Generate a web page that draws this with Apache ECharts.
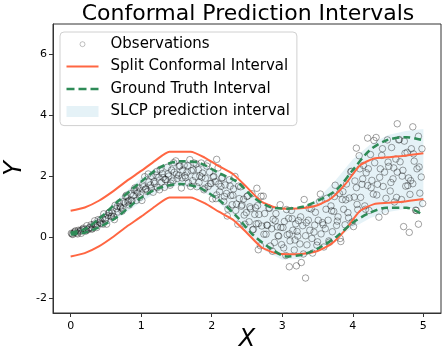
<!DOCTYPE html>
<html>
<head>
<meta charset="utf-8">
<script src="https://cdn.jsdelivr.net/npm/echarts@6/dist/echarts.min.js"></script>
<style>
  html, body { margin: 0; padding: 0; background: #fff; }
  #chart { width: 442px; height: 354px; }
</style>
</head>
<body>
<div id="chart"></div>
<script>
// tick labels
const xTicks = [0, 1, 2, 3, 4, 5];
const yTicks = [-2, 0, 2, 4, 6];

// observations [x, y]
const observations = [
  [0.01,0.12],[0.03,0.08],[0.05,0.14],[0.07,0.20],[0.09,0.13],[0.11,0.22],[0.13,0.18],[0.15,0.12],[0.17,0.25],[0.19,0.25],[0.21,0.19],[0.23,0.37],[0.25,0.24],
  [0.27,0.31],[0.29,0.40],[0.31,0.27],[0.33,0.42],[0.35,0.39],[0.37,0.31],[0.39,0.57],[0.41,0.48],[0.43,0.44],[0.45,0.61],[0.47,0.76],[0.49,0.56],
  [0.51,0.42],[0.53,0.70],[0.55,0.81],[0.57,0.67],[0.59,0.79],[0.61,0.67],[0.63,1.04],[0.65,0.93],[0.67,0.82],[0.69,1.12],[0.71,0.96],[0.73,0.85],[0.75,1.16],
  [0.77,1.12],[0.79,1.37],[0.81,1.15],[0.83,1.05],[0.85,1.42],[0.87,1.20],[0.89,1.36],[0.91,1.61],[0.93,1.20],[0.95,1.45],[0.97,1.61],[0.99,1.39],
  [1.01,1.20],[1.03,1.65],[1.05,1.98],[1.07,1.58],[1.09,1.49],[1.11,1.81],[1.13,1.71],[1.15,1.99],[1.17,1.47],[1.19,1.76],[1.21,2.03],[1.23,1.63],
  [1.25,1.97],[1.27,2.22],[1.29,1.80],[1.31,1.95],[1.33,1.63],[1.35,1.88],[1.37,2.29],[1.39,2.00],[1.41,1.70],[1.43,2.20],[1.45,1.84],[1.47,2.13],[1.49,2.50],
  [1.51,1.92],[1.53,2.02],[1.55,2.34],[1.57,1.61],[1.59,2.20],[1.61,2.36],[1.63,1.95],[1.65,2.13],[1.67,1.78],[1.69,2.54],[1.71,2.18],[1.73,1.85],[1.75,2.43],
  [1.77,1.98],[1.79,1.65],[1.81,2.21],[1.83,2.01],[1.85,2.43],[1.87,2.10],[1.89,1.55],[1.91,1.93],[1.93,2.33],[1.95,1.66],[1.97,2.13],[1.99,1.75],
  [2.01,1.25],[2.03,1.99],[2.05,1.82],[2.07,1.38],[2.09,2.27],[2.11,1.49],[2.13,1.66],[2.15,1.95],[2.17,1.17],[2.19,1.71],[2.21,1.43],[2.23,0.92],[2.25,1.88],
  [2.27,1.36],[2.29,1.06],[2.31,1.58],[2.33,1.99],[2.35,1.08],[2.37,0.42],[2.39,1.26],[2.41,1.65],[2.43,1.05],[2.45,1.24],[2.47,0.42],[2.49,0.80],
  [2.51,1.35],[2.53,0.50],[2.55,0.93],[2.57,1.42],[2.59,0.25],[2.61,0.74],[2.63,0.43],[2.65,1.03],[2.67,0.74],[2.69,-0.29],[2.71,0.36],[2.73,1.34],[2.75,0.77],
  [2.77,0.09],[2.79,0.38],[2.81,0.95],[2.83,-0.30],[2.85,0.27],[2.87,0.58],[2.89,-0.18],[2.91,0.77],[2.93,0.33],[2.95,0.03],[2.97,1.06],[2.99,-0.25],
  [3.01,0.31],[3.03,0.51],[3.05,-0.61],[3.07,0.07],[3.09,0.61],[3.11,-0.13],[3.13,0.87],[3.15,0.22],[3.17,-0.43],[3.19,0.43],[3.21,0.18],[3.23,0.54],[3.25,-0.23],
  [3.27,-0.84],[3.29,0.37],[3.31,1.23],[3.33,0.04],[3.35,-0.26],[3.37,0.55],[3.39,0.22],[3.41,0.92],[3.43,-0.53],[3.45,0.16],[3.47,0.81],[3.49,-0.27],
  [3.51,0.55],[3.53,1.17],[3.55,0.10],[3.57,0.47],[3.59,-0.33],[3.61,0.27],[3.63,1.27],[3.65,0.55],[3.67,-0.17],[3.69,1.02],[3.71,0.17],[3.73,0.84],[3.75,1.70],
  [3.77,0.38],[3.79,0.66],[3.81,1.43],[3.83,-0.15],[3.85,1.23],[3.87,0.91],[3.89,0.40],[3.91,1.74],[3.93,0.80],[3.95,1.28],[3.97,2.14],[3.99,0.49],
  [4.01,0.34],[4.03,1.84],[4.05,1.62],[4.07,0.90],[4.09,2.67],[4.11,1.30],[4.13,1.73],[4.15,2.35],[4.17,1.02],[4.19,2.11],[4.21,1.69],[4.23,0.87],[4.25,2.71],
  [4.27,1.86],[4.29,1.41],[4.31,2.44],[4.33,3.27],[4.35,1.73],[4.37,0.65],[4.39,2.24],[4.41,2.68],[4.43,1.66],[4.45,2.13],[4.47,1.27],[4.49,3.19],
  [4.51,2.32],[4.53,1.51],[4.55,2.94],[4.57,1.91],[4.59,1.15],[4.61,2.56],[4.63,2.13],[4.65,3.19],[4.67,2.47],[4.69,1.23],[4.71,2.19],[4.73,3.15],[4.75,1.67],
  [4.77,2.78],[4.79,1.94],[4.81,1.40],[4.83,2.90],[4.85,1.75],[4.87,2.49],[4.89,0.88],[4.91,2.24],[4.93,3.31],[4.95,1.44],[4.97,1.97],[4.99,1.10],
  [0.02,0.10],[0.06,0.18],[0.10,0.10],[0.14,0.22],[0.18,0.29],[0.22,0.21],[0.26,0.29],[0.30,0.26],[0.34,0.53],[0.38,0.42],[0.42,0.55],[0.46,0.42],
  [0.50,0.63],[0.54,0.79],[0.58,0.69],[0.62,0.57],[0.66,1.00],[0.70,1.00],[0.74,0.92],[0.78,1.33],[0.82,1.19],[0.86,1.19],[0.90,1.54],[0.94,1.51],
  [0.98,1.30],[1.02,1.71],[1.06,1.57],[1.10,2.07],[1.14,1.60],[1.18,1.82],[1.22,2.15],[1.26,1.55],[1.30,2.08],[1.34,1.89],[1.38,2.07],[1.42,1.77],
  [1.46,2.44],[1.50,2.06],[1.54,2.32],[1.58,1.94],[1.62,2.01],[1.66,2.34],[1.70,1.66],[1.74,2.20],[1.78,2.40],[1.82,1.79],[1.86,1.97],[1.90,1.60],
  [1.94,2.41],[1.98,1.76],[2.02,1.97],[2.06,1.26],[2.10,1.74],[2.14,1.93],[2.18,1.33],[2.22,0.69],[2.26,1.67],[2.30,1.37],[2.34,0.87],[2.38,1.67],
  [2.42,1.01],[2.46,0.72],[2.50,1.33],[2.54,0.99],[2.58,0.23],[2.62,0.96],[2.66,0.44],[2.70,1.34],[2.74,0.09],[2.78,0.39],[2.82,0.94],[2.86,-0.47],
  [2.90,0.53],[2.94,0.04],[2.98,0.31],[3.02,-0.36],[3.06,0.90],[3.10,0.10],[3.14,0.60],[3.18,-0.10],[3.22,0.03],[3.26,0.66],[3.30,-0.56],[3.34,0.47],
  [3.38,0.94],[3.42,-0.05],[3.46,0.39],[3.50,-0.16],[3.54,1.41],[3.58,0.40],[3.62,0.91],[3.66,-0.13],[3.70,0.86],[3.74,1.33],[3.78,0.52],[3.82,-0.05],
  [3.86,1.49],[3.90,1.22],[3.94,0.63],[3.98,2.16],[4.02,1.31],[4.06,1.07],[4.10,2.24],[4.14,1.91],[4.18,0.91],[4.22,2.24],[4.26,1.62],[4.30,3.17],
  [4.34,1.38],[4.38,1.96],[4.42,2.90],[4.46,0.84],[4.50,2.46],[4.54,1.79],[4.58,2.27],[4.62,1.30],[4.66,3.20],[4.70,2.00],[4.74,2.75],[4.78,1.69],
  [4.82,1.85],[4.86,2.73],[4.90,0.87],[4.94,2.30],[4.98,2.90],
  [2.07,2.55],[3.33,-1.35],[4.63,3.72],[4.85,3.62],[4.72,0.34],[4.80,0.15],[4.93,0.42],[4.05,2.92],[4.21,3.25],[2.66,-0.42],[2.64,1.60],[3.10,-0.98],[3.20,-0.95]
];

// split conformal interval
const splitX     = [0, 0.2, 0.4, 0.6, 0.8, 1.0, 1.2, 1.4, 1.7, 1.9, 2.1, 2.3, 2.5, 2.7, 2.9, 3.1, 3.3, 3.5, 3.7, 3.9, 4.1, 4.3, 4.5, 4.7, 5.0];
const splitUpper = [0.86, 0.97, 1.19, 1.50, 1.85, 2.17, 2.51, 2.80, 2.80, 2.61, 2.33, 2.07, 1.63, 1.17, 0.97, 0.93, 0.95, 1.04, 1.28, 1.75, 2.35, 2.58, 2.62, 2.66, 2.75];
const splitLower = [-0.64, -0.53, -0.31, 0.00, 0.35, 0.67, 1.01, 1.30, 1.30, 1.11, 0.83, 0.57, 0.13, -0.33, -0.53, -0.57, -0.55, -0.46, -0.22, 0.25, 0.85, 1.08, 1.12, 1.16, 1.25];

// ground truth interval
const truthX     = [0, 0.2, 0.42, 0.66, 0.99, 1.27, 1.55, 1.83, 2.12, 2.36, 2.58, 2.82, 3.06, 3.29, 3.53, 3.77, 4.0, 4.24, 4.48, 4.76, 4.99];
const truthUpper = [0.14, 0.26, 0.63, 1.15, 1.80, 2.29, 2.49, 2.43, 2.08, 1.81, 1.32, 0.99, 0.93, 0.99, 1.22, 1.55, 2.20, 2.85, 3.18, 3.28, 3.18];
const truthLower = [0.08, 0.14, 0.34, 0.66, 1.28, 1.62, 1.74, 1.61, 1.18, 0.66, 0.08, -0.35, -0.64, -0.58, -0.35, 0.01, 0.47, 0.79, 0.96, 0.96, 0.73];

// SLCP prediction interval
const slcpX     = [0, 0.25, 0.5, 0.75, 1.0, 1.25, 1.5, 1.75, 2.0, 2.25, 2.5, 2.75, 3.0, 3.25, 3.5, 3.75, 4.0, 4.25, 4.5, 4.75, 5.0];
const slcpLower = [0.06, 0.14, 0.38, 0.75, 1.15, 1.50, 1.68, 1.62, 1.32, 0.80, 0.15, -0.45, -0.75, -0.72, -0.45, -0.05, 0.30, 0.62, 0.82, 0.92, 0.98];
const slcpUpper = [0.16, 0.42, 0.85, 1.42, 1.95, 2.33, 2.52, 2.50, 2.25, 1.95, 1.55, 1.10, 0.85, 0.92, 1.25, 1.85, 2.55, 3.05, 3.35, 3.48, 3.55];

const ORANGE = '#ff6642';
const GREEN = '#2e8b57';
const SLCP_FILL = 'rgba(173,216,230,0.32)';
const OBS_EDGE = 'rgba(0,0,0,0.45)';

const zip = (xs, ys) => xs.map((x, i) => [x, ys[i]]);

const chart = echarts.init(document.getElementById('chart'), null, { renderer: 'canvas' });

const splitLine = (data) => ({
  name: 'Split Conformal Interval',
  type: 'line',
  data: data,
  symbol: 'none',
  smooth: 0.2,
  z: 4,
  lineStyle: { color: ORANGE, width: 2 },
  itemStyle: { color: ORANGE }
});

const truthLine = (data) => ({
  name: 'Ground Truth Interval',
  type: 'line',
  data: data,
  symbol: 'none',
  smooth: 0.3,
  z: 5,
  lineStyle: { color: GREEN, width: 2.5, type: [7, 4] },
  itemStyle: { color: GREEN }
});

const option = {
  animation: false,
  backgroundColor: '#fff',
  textStyle: { fontFamily: 'DejaVu Sans' },
  title: {
    text: 'Conformal Prediction Intervals',
    left: 243,
    textAlign: 'center',
    top: -2,
    textStyle: { fontSize: 22, fontWeight: 'normal', color: '#000' }
  },
  grid: {
    left: 53, right: 1, top: 24, bottom: 41,
    outerBoundsMode: 'none',
    show: true, borderColor: '#333', borderWidth: 1, backgroundColor: 'transparent'
  },
  legend: {
    left: 60, top: 32,
    orient: 'vertical',
    itemWidth: 32, itemHeight: 12, itemGap: 0,
    padding: [1, 7, 3, 6],
    backgroundColor: 'rgba(255,255,255,0.85)',
    borderColor: '#d0d0d0', borderWidth: 1, borderRadius: 4,
    selectedMode: false,
    textStyle: { fontSize: 15, color: '#000', lineHeight: 22.4, padding: [0, 0, 0, 7] },
    data: [
      {
        name: 'Observations',
        icon: 'path://M0,0M32,12M13.5,6a2.5,2.5 0 1,0 5,0a2.5,2.5 0 1,0 -5,0',
        itemStyle: { color: 'rgba(0,0,0,0)', borderColor: 'rgba(0,0,0,0.3)', borderWidth: 1 }
      },
      {
        name: 'Split Conformal Interval',
        icon: 'path://M0,0M32,12M0,5h32v2h-32z',
        itemStyle: { color: ORANGE, borderWidth: 0 }
      },
      {
        name: 'Ground Truth Interval',
        icon: 'path://M0,0M32,12M0,4.75h8v2.5h-8zM12,4.75h8v2.5h-8zM24,4.75h8v2.5h-8z',
        itemStyle: { color: GREEN, borderWidth: 0 }
      },
      {
        name: 'SLCP prediction interval',
        icon: 'path://M0,0M32,12M0,0.5h32v11h-32z',
        itemStyle: { color: SLCP_FILL, borderWidth: 0 }
      }
    ]
  },
  xAxis: {
    type: 'value',
    min: -0.25, max: 5.25,
    name: 'X', nameLocation: 'middle', nameGap: 15, nameMoveOverlap: false,
    nameTextStyle: { fontSize: 24, fontStyle: 'italic', color: '#000' },
    axisLine: { show: true, onZero: false, lineStyle: { color: '#333', width: 1 } },
    axisTick: { show: true, inside: false, length: 4, customValues: xTicks, lineStyle: { color: '#333' } },
    axisLabel: { customValues: xTicks, fontSize: 11, color: '#000', margin: 8 },
    splitLine: { show: false }
  },
  yAxis: {
    type: 'value',
    min: -2.5, max: 7,
    name: 'Y', nameLocation: 'middle', nameGap: 26, nameMoveOverlap: false,
    nameTextStyle: { fontSize: 24, fontStyle: 'italic', color: '#000' },
    axisLine: { show: true, onZero: false, lineStyle: { color: '#333', width: 1 } },
    axisTick: { show: true, inside: false, length: 4, customValues: yTicks, lineStyle: { color: '#333' } },
    axisLabel: { customValues: yTicks, fontSize: 11, color: '#000', margin: 6 },
    splitLine: { show: false }
  },
  series: [
    {
      name: 'SLCP prediction interval',
      type: 'custom',
      data: slcpX.map((x, i) => [x, slcpLower[i], slcpUpper[i]]),
      encode: { x: 0, y: [1, 2] },
      silent: true,
      z: 1,
      itemStyle: { color: SLCP_FILL },
      renderItem: (params, api) => {
        if (params.dataIndex !== 0) return null;
        const top = slcpX.map((x, i) => api.coord([x, slcpUpper[i]]));
        const bottom = slcpX.map((x, i) => api.coord([x, slcpLower[i]])).reverse();
        return {
          type: 'polygon',
          shape: { points: top.concat(bottom) },
          style: { fill: SLCP_FILL, stroke: null }
        };
      }
    },
    {
      name: 'Observations',
      type: 'scatter',
      data: observations,
      symbol: 'circle',
      symbolSize: 6.5,
      z: 3,
      itemStyle: { color: 'rgba(0,0,0,0)', borderColor: OBS_EDGE, borderWidth: 1 }
    },
    splitLine(zip(splitX, splitUpper)),
    splitLine(zip(splitX, splitLower)),
    truthLine(zip(truthX, truthUpper)),
    truthLine(zip(truthX, truthLower))
  ]
};

chart.setOption(option);
</script>
</body>
</html>
